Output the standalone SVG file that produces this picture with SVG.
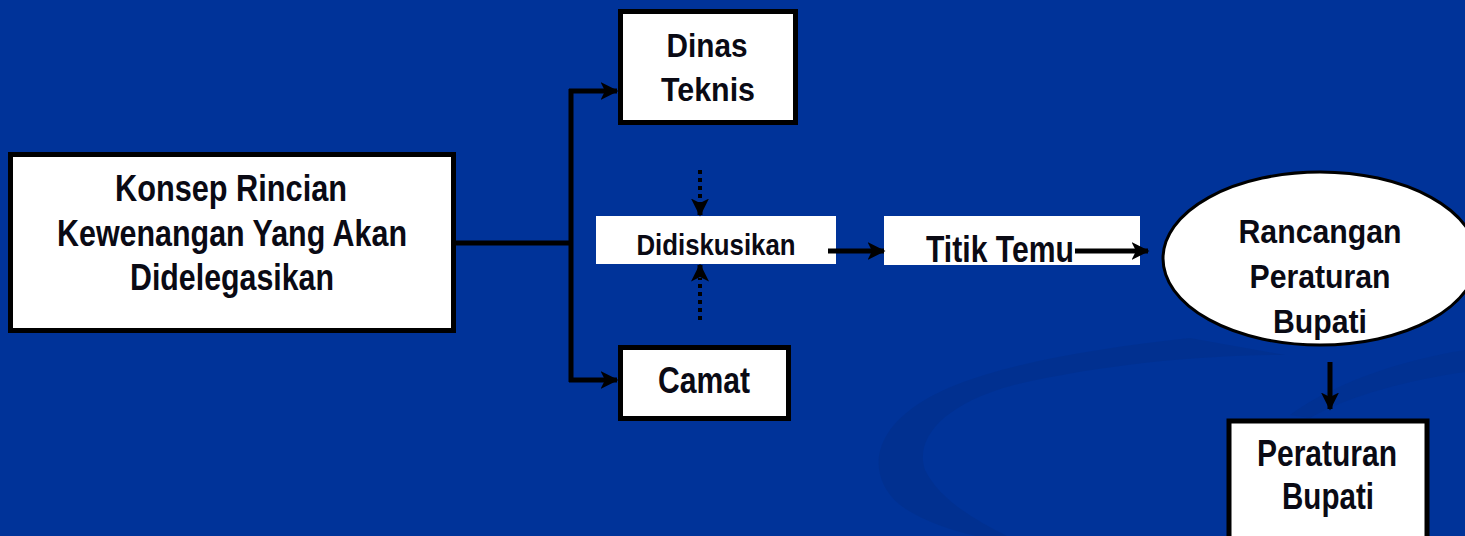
<svg xmlns="http://www.w3.org/2000/svg" width="1465" height="536" viewBox="0 0 1465 536">
  <style>
    .box { fill: #ffffff; stroke: #000000; stroke-width: 5; }
    .plain { fill: #ffffff; }
    .lbl { font-family: "Liberation Sans", Arial, sans-serif; font-weight: bold; font-size: 37px; fill: #0a0a14; text-anchor: middle; }
    .mid { font-size: 34px; }
    .small { font-size: 30px; }
    .wire { fill: none; stroke: #000000; stroke-width: 5; }
    .dots { fill: none; stroke: #000000; stroke-width: 4; stroke-dasharray: 4 4; }
  </style>
  <defs>
    <marker id="head" viewBox="0 0 12 12" refX="11" refY="6" markerWidth="3.6" markerHeight="3.6" orient="auto">
      <path d="M0,0 L12,6 L0,12 L3,6 Z" fill="#000000"/>
    </marker>
  </defs>

  <!-- backdrop with a faint swoosh -->
  <rect x="0" y="0" width="1465" height="536" fill="#003399"/>
  <path d="M1190,338 C1080,350 960,370 910,410 C870,440 870,480 900,505 C920,520 950,530 976,536 L1007,536 C975,520 940,500 925,470 C915,440 940,405 1014,385 C1100,365 1200,355 1285,355 Z" fill="#02308d" opacity="0.75"/>
  <path d="M1465,350 C1400,360 1330,385 1290,415 L1310,418 C1350,395 1410,380 1465,372 Z" fill="#02308d" opacity="0.6"/>

  <g id="konsep">
    <rect class="box" x="10.5" y="154.5" width="443" height="176"/>
    <text class="lbl" x="231" y="201" textLength="232" lengthAdjust="spacingAndGlyphs">Konsep Rincian</text>
    <text class="lbl" x="232" y="246" textLength="350" lengthAdjust="spacingAndGlyphs">Kewenangan Yang Akan</text>
    <text class="lbl" x="232" y="290" textLength="204" lengthAdjust="spacingAndGlyphs">Didelegasikan</text>
  </g>

  <g id="dinas-teknis">
    <rect class="box" x="620.5" y="11.5" width="175" height="111"/>
    <text class="lbl mid" x="707" y="57" textLength="81" lengthAdjust="spacingAndGlyphs">Dinas</text>
    <text class="lbl mid" x="708" y="101" textLength="94" lengthAdjust="spacingAndGlyphs">Teknis</text>
  </g>

  <g id="camat">
    <rect class="box" x="620.5" y="347.5" width="168" height="71"/>
    <text class="lbl" x="704" y="393" textLength="92" lengthAdjust="spacingAndGlyphs">Camat</text>
  </g>

  <g id="didiskusikan">
    <rect class="plain" x="596" y="216" width="240" height="48"/>
    <text class="lbl small" x="716" y="255" textLength="159" lengthAdjust="spacingAndGlyphs">Didiskusikan</text>
  </g>

  <g id="titik-temu">
    <rect class="plain" x="884" y="216" width="256" height="49"/>
    <text class="lbl" x="1000" y="262" textLength="148" lengthAdjust="spacingAndGlyphs">Titik Temu</text>
  </g>

  <g id="rancangan">
    <ellipse cx="1320" cy="258.5" rx="157" ry="86.5" fill="#ffffff" stroke="#000000" stroke-width="3"/>
    <text class="lbl mid" x="1320" y="243" textLength="163" lengthAdjust="spacingAndGlyphs">Rancangan</text>
    <text class="lbl mid" x="1320" y="288" textLength="141" lengthAdjust="spacingAndGlyphs">Peraturan</text>
    <text class="lbl mid" x="1320" y="333" textLength="94" lengthAdjust="spacingAndGlyphs">Bupati</text>
  </g>

  <g id="peraturan-bupati">
    <rect class="box" x="1229" y="421" width="198" height="130" stroke-width="4"/>
    <text class="lbl" x="1327" y="466" textLength="140" lengthAdjust="spacingAndGlyphs">Peraturan</text>
    <text class="lbl" x="1328" y="509" textLength="92" lengthAdjust="spacingAndGlyphs">Bupati</text>
  </g>

  <!-- connectors -->
  <g id="connectors">
    <path class="wire" d="M456,243 H571"/>
    <path class="wire" d="M571,89 V382"/>
    <path class="wire" d="M569,91 H617" marker-end="url(#head)"/>
    <path class="wire" d="M569,380 H617" marker-end="url(#head)"/>
    <path class="dots" d="M700,170 V204"/>
    <path class="wire" d="M700,204 V215" stroke-width="4" marker-end="url(#head)"/>
    <path class="dots" d="M700,320 V278"/>
    <path class="wire" d="M700,276 V265" stroke-width="4" marker-end="url(#head)"/>
    <path class="wire" d="M828,251 H884" marker-end="url(#head)"/>
    <path class="wire" d="M1075,251 H1148" marker-end="url(#head)"/>
    <path class="wire" d="M1330,362 V409" marker-end="url(#head)"/>
  </g>
</svg>
